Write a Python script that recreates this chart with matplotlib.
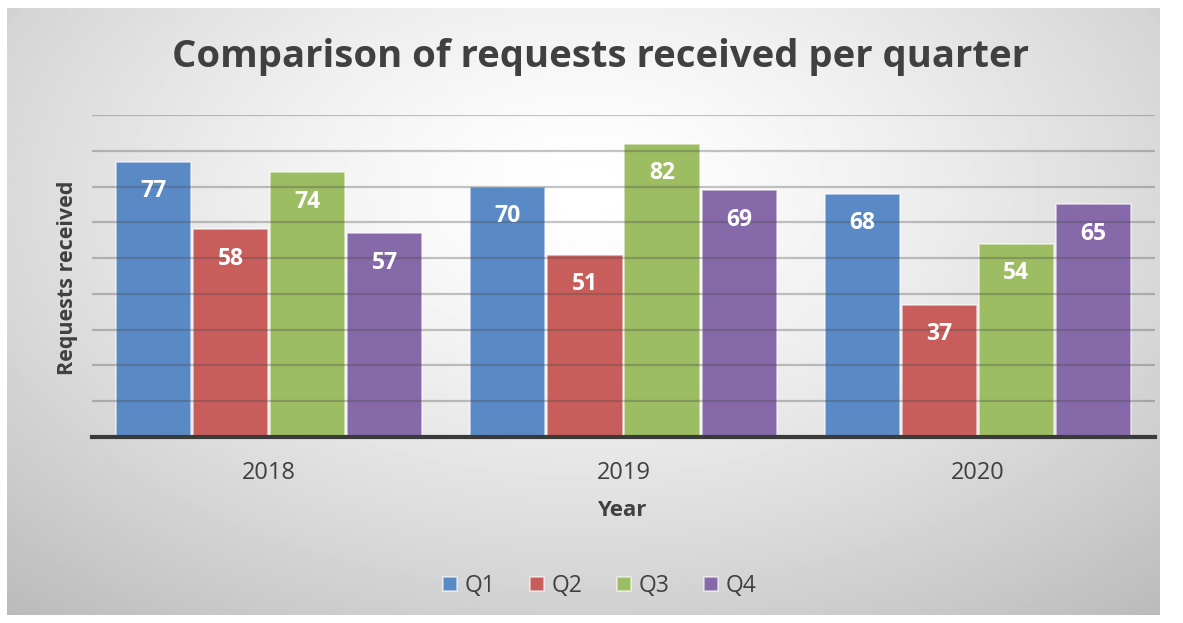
import matplotlib.pyplot as plt
import numpy as np

# ----- Data -------------------------------------------------

years = ["2018", "2019", "2020"]
quarters = ["Q1", "Q2", "Q3", "Q4"]
q1 = [77, 70, 68]
q2 = [58, 51, 37]
q3 = [74, 82, 54]
q4 = [57, 69, 65]
colors = ["#5a8ac6", "#c85e5b", "#9dbd62", "#8669a8"]

# ----- Figure -------------------------------------------------

W, H = 1183, 623
fig = plt.figure(figsize=(W / 100, H / 100), dpi=100)
fig.patch.set_facecolor("white")

# radial gradient background, like the office chart style
bg = fig.add_axes([7 / W, 8 / H, 1153 / W, 607 / H])
yy, xx = np.mgrid[0:1:300j, 0:1:600j]
r = np.sqrt(((xx - 0.5) / 0.75) ** 2 + ((yy - 0.3) / 0.9) ** 2)
grad = np.clip(1.0 - 0.26 * r ** 1.4, 0, 1)
bg.imshow(grad, cmap="gray", vmin=0, vmax=1, aspect="auto",
          extent=[0, 1, 0, 1], origin="upper")
bg.set_axis_off()

ax = fig.add_axes([92 / W, (H - 437) / H, 1063 / W, 322 / H])
ax.patch.set_alpha(0)

x = np.arange(len(years))
width = 0.212
step = 0.2175
series = [q1, q2, q3, q4]
for i, (vals, c, name) in enumerate(zip(series, colors, quarters)):
    pos = x + (i - 1.5) * step
    bars = ax.bar(pos, vals, width, color=c, edgecolor=(1, 1, 1, 0.6),
                  linewidth=1.2, label=name, zorder=2)
    for b, v in zip(bars, vals):
        ax.text(b.get_x() + b.get_width() / 2, v - 8.3, str(v), ha="center",
                va="center", color="white", fontsize=16.5, fontweight="bold",
                family="Open Sans", zorder=4)

# gridlines drawn over the bars (show through like the original)
for g in range(10, 91, 10):
    ax.axhline(g, color="#4a4a4a", alpha=0.32, linewidth=1.6, zorder=3)

ax.set_xlim(-0.5, 2.5)
ax.set_ylim(0, 90)
ax.set_yticks([])
ax.set_xticks(x)
ax.set_xticklabels(years, fontsize=17, color="#404040", family="Open Sans")
ax.tick_params(axis="x", length=0, pad=17)
for s in ["top", "right", "left"]:
    ax.spines[s].set_visible(False)
ax.spines["bottom"].set_color("#3a3a3a")
ax.spines["bottom"].set_linewidth(3)
ax.spines["bottom"].set_zorder(5)

fig.text(622 / W, 1 - 511 / H, "Year", ha="center", va="center",
         fontsize=16, fontweight="bold", color="#404040", family="Open Sans")
fig.text(68 / W, 1 - 278 / H, "Requests received", rotation=90, ha="center",
         va="center", fontsize=15.5, fontweight="bold", color="#404040",
         family="Open Sans")

fig.text(600 / W, 1 - 57 / H, "Comparison of requests received per quarter",
         ha="center", va="center", fontsize=27.5, fontweight="bold",
         color="#404040", family="Open Sans")

leg = fig.legend(loc="center", bbox_to_anchor=(600 / W, 1 - 586 / H), ncol=4,
                 frameon=False, handlelength=0.6, handleheight=0.6,
                 handletextpad=0.35, columnspacing=1.5,
                 prop={"family": "Open Sans", "size": 16.5})
for t in leg.get_texts():
    t.set_color("#404040")

plt.savefig("out.png", dpi=100)
